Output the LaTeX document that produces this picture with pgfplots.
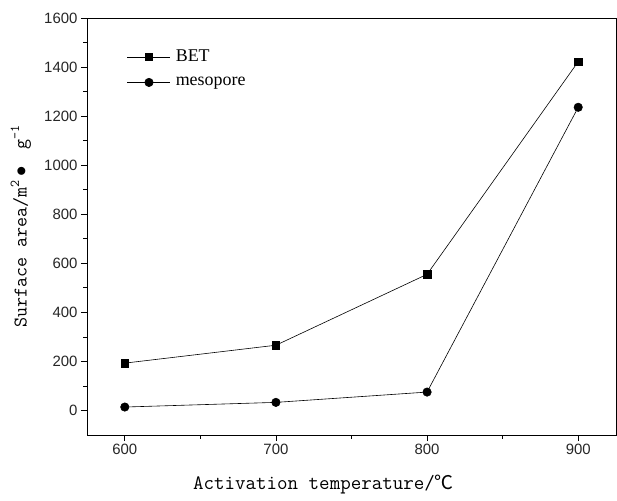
\documentclass[border=0pt]{standalone}
\usepackage{fontspec}
\setmainfont{Liberation Serif}
\newfontfamily\ticksf{Liberation Sans}
\newfontfamily\cjk{Noto Sans CJK SC}
\usepackage{pgfplots}
\pgfplotsset{compat=1.18}

\newcommand{\legfont}{\fontsize{18}{20}\selectfont}

\begin{document}
\begin{tikzpicture}
    \begin{axis}[
        scale only axis,
        width=529bp,
        height=417bp,
        xmin=575, xmax=925,
        ymin=-100, ymax=1600,
        xtick={600,700,800,900},
        ytick={0,200,...,1600},
        minor x tick num=1,
        minor y tick num=1,
        tick align=outside,
        xtick pos=left,
        ytick pos=left,
        major tick length=6bp,
        minor tick length=3.5bp,
        axis line style={line width=0.9pt},
        every tick/.style={black, line width=0.7pt},
        /pgf/number format/assume math mode=true,
        /pgf/number format/1000 sep={},
        tick label style={font=\ticksf\fontsize{15}{17}\selectfont, color=black!85},
        xlabel={\ttfamily\fontsize{20.5}{22}\selectfont Activation temperature/{\cjk\fontsize{19}{22}\selectfont ℃}},
        ylabel={\ttfamily\fontsize{19.5}{22}\selectfont Surface area/m\textsuperscript{2}\,$\bullet$\,\, g\textsuperscript{-1}},
        xlabel style={at={(axis description cs:0.447,-0.12)}, anchor=center},
        ylabel style={at={(axis description cs:-0.125,0.5)}, anchor=center},
        legend style={at={(axis description cs:0.0756,0.928)}, anchor=north west,
            draw=none, fill=none, inner sep=0pt, row sep=10bp,
            nodes={inner sep=2bp}},
        legend cell align=left,
        legend image code/.code={
            \draw[mark repeat=2, mark phase=2, #1]
                plot coordinates {(0bp,0bp) (21.5bp,0bp) (43bp,0bp)};
        },
    ]
        \addplot[black, line width=0.6pt, mark=square*, mark size=3.8bp] coordinates {
            (600, 193) (700, 266) (800, 555) (900, 1422)
        };
        \addlegendentry{\hspace{3bp}\legfont BET}
        \addplot[black, line width=0.6pt, mark=*, mark size=4.2bp] coordinates {
            (600, 14) (700, 33) (800, 75) (900, 1236)
        };
        \addlegendentry{\hspace{3bp}\legfont mesopore}
    \end{axis}
    \pgfresetboundingbox
    \path[use as bounding box]
        ([xshift=-87bp, yshift=-66bp]current axis.south west)
        rectangle ([xshift=1bp, yshift=18bp]current axis.north east);
\end{tikzpicture}
\end{document}
